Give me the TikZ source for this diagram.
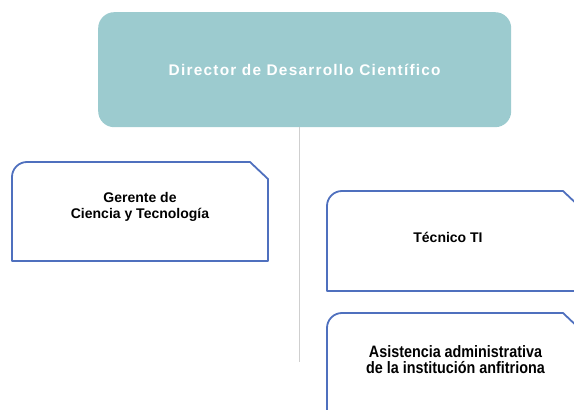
\documentclass[tikz,border=0pt]{standalone}
\usepackage{fontspec}
\setmainfont{Liberation Sans}
\newfontfamily\topfont[LetterSpace=8]{Liberation Sans}
\newfontfamily\narrowfont[FakeStretch=0.87]{Liberation Sans}
\begin{document}
\begin{tikzpicture}[x=1pt,y=1pt,
  boxline/.style={draw=boxblue,line width=1.8pt,line join=round},
  lbl/.style={font=\bfseries\fontsize{14}{16}\selectfont,align=center,text=black,inner sep=0pt},
  lblnarrow/.style={font=\narrowfont\bfseries\fontsize{16.5}{16}\selectfont,align=center,text=black,inner sep=0pt}]
\definecolor{boxblue}{HTML}{4F70BE}
\definecolor{teal}{HTML}{9CCBCF}
\definecolor{conn}{HTML}{CFCFCF}
\useasboundingbox (0,0) rectangle (574,410);
\clip (0,0) rectangle (574,410);
\node[fill=teal,rounded corners=16pt,minimum width=413pt,minimum height=115pt,inner sep=0pt,anchor=north west]
  (dir) at (98,398) {};
\node[text=white,font=\topfont\bfseries\fontsize{15.4}{17}\selectfont,inner sep=0pt,anchor=base] (dirt) at ([yshift=-5.5pt]dir.center) {Director de Desarrollo Científico};
\coordinate (cend) at (299,48);
\draw[conn,line width=1pt] (dir.south -| cend) -- (cend);
% left box
\draw[boxline] (12,149) -- (12,233) arc[start angle=180,end angle=90,radius=15] -- (250,248) -- (268,231) -- (268,149) -- cycle;
\node[lbl] (ger) at (140,203.5) {Gerente de\\Ciencia y Tecnología};
% Tecnico box
\draw[boxline] (327,119) -- (327,204) arc[start angle=180,end angle=90,radius=15] -- (563,219) -- (581,202) -- (581,119) -- cycle;
\node[lbl] (tec) at (448,173) {Técnico TI};
% Asistencia box
\draw[boxline] (327,-10) -- (327,82) arc[start angle=180,end angle=90,radius=15] -- (563,97) -- (581,80) -- (581,-10) -- cycle;
\node[lblnarrow] (asi) at (455.5,50) {Asistencia administrativa\\de la institución anfitriona};
\end{tikzpicture}
\end{document}
